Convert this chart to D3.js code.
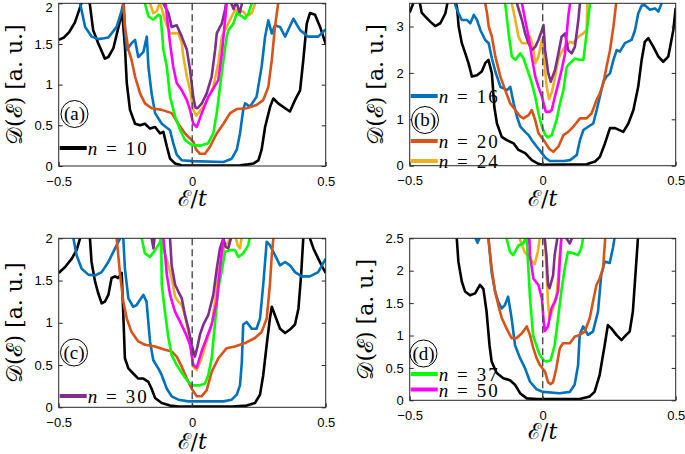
<!DOCTYPE html>
<html><head><meta charset="utf-8">
<script src="https://cdn.jsdelivr.net/npm/d3@7/dist/d3.min.js"></script>
<style>body{margin:0;background:#fff}svg{display:block}</style>
</head><body>
<svg id="chart" width="685" height="454"></svg>
<script>
// ---------------- data (E/t , D(E) in a.u.) ----------------
const seriesN = [10, 16, 20, 24, 30, 37, 50];
const seriesColors = ["#000000", "#0072BD", "#D95319", "#EDB120", "#7E2F8E", "#00FF00", "#FF00FF"];
const xTickValues = [-0.5, 0, 0.5];
const yTicksA = [0, 0.5, 1, 1.5, 2];
const yTicksB = [0, 1, 2, 3];
const yTicksC = [0, 0.5, 1, 1.5, 2];
const yTicksD = [0, 0.5, 1, 1.5, 2, 2.5];

// panel (a)
const a_n10 = [[-0.5,1.55],[-0.48,1.58],[-0.46,1.65],[-0.44,1.76],[-0.425,1.9],[-0.415,2.0],[-0.405,2.15],[-0.392,2.15],[-0.383,1.98],[-0.371,1.67],[-0.352,1.51],[-0.327,1.32],[-0.314,1.34],[-0.295,1.45],[-0.27,1.79],[-0.262,1.88],[-0.252,1.47],[-0.245,1.02],[-0.233,0.69],[-0.214,0.52],[-0.195,0.50],[-0.177,0.52],[-0.158,0.46],[-0.139,0.48],[-0.12,0.40],[-0.108,0.42],[-0.095,0.24],[-0.083,0.09],[-0.064,0.03],[-0.04,0.01],[0,0.005],[0.1,0.005],[0.18,0.01],[0.21,0.02],[0.229,0.03],[0.248,0.07],[0.26,0.2],[0.273,0.48],[0.292,0.73],[0.304,0.83],[0.322,0.77],[0.348,0.71],[0.366,0.67],[0.385,0.81],[0.404,0.93],[0.416,1.30],[0.429,1.75],[0.441,1.88],[0.46,1.86],[0.479,1.71],[0.5,1.5]];
const a_n16 = [[-0.43,2.3],[-0.42,2.0],[-0.401,1.71],[-0.376,1.59],[-0.352,1.56],[-0.33,1.57],[-0.314,1.58],[-0.283,1.71],[-0.265,1.9],[-0.257,2.02],[-0.25,1.6],[-0.245,1.43],[-0.227,1.51],[-0.214,1.55],[-0.202,1.34],[-0.183,1.40],[-0.17,1.59],[-0.164,1.22],[-0.152,0.89],[-0.139,0.65],[-0.114,0.52],[-0.095,0.47],[-0.083,0.44],[-0.071,0.28],[-0.058,0.14],[-0.039,0.07],[0,0.06],[0.117,0.05],[0.148,0.09],[0.167,0.2],[0.179,0.40],[0.191,0.69],[0.198,0.77],[0.216,0.73],[0.241,0.85],[0.26,1.22],[0.273,1.59],[0.285,1.79],[0.298,1.63],[0.31,1.73],[0.329,1.71],[0.348,1.59],[0.379,1.81],[0.404,1.67],[0.435,1.59],[0.472,1.59],[0.5,1.68]];
const a_n20 = [[-0.265,2.3],[-0.258,2.0],[-0.252,1.71],[-0.239,1.43],[-0.227,1.30],[-0.214,1.10],[-0.195,0.89],[-0.177,0.77],[-0.152,0.71],[-0.114,0.69],[-0.077,0.65],[-0.052,0.52],[-0.027,0.40],[0.004,0.30],[0.015,0.2],[0.029,0.15],[0.048,0.15],[0.067,0.24],[0.092,0.40],[0.117,0.52],[0.142,0.65],[0.167,0.70],[0.204,0.71],[0.241,0.75],[0.266,0.81],[0.285,0.97],[0.298,1.30],[0.31,1.71],[0.322,2.0],[0.33,2.3]];
const a_n24 = [[-0.165,2.2],[-0.158,2.0],[-0.146,1.88],[-0.133,1.90],[-0.122,2.0],[-0.115,1.95],[-0.102,1.79],[-0.083,1.63],[-0.052,1.63],[-0.039,1.51],[-0.033,1.34],[-0.02,1.10],[-0.008,0.93],[0.004,0.69],[0.015,0.62],[0.023,0.65],[0.042,0.73],[0.06,0.83],[0.079,0.97],[0.098,1.27],[0.111,1.59],[0.129,1.71],[0.148,1.84],[0.161,1.92],[0.175,1.90],[0.192,1.90],[0.204,1.84],[0.223,1.88],[0.236,2.0],[0.245,2.3]];
const a_n30 = [[-0.115,2.2],[-0.108,2.0],[-0.089,1.88],[-0.077,1.71],[-0.058,1.73],[-0.039,1.59],[-0.02,1.43],[-0.008,1.18],[0.004,0.85],[0.012,0.72],[0.02,0.71],[0.036,0.77],[0.054,0.89],[0.073,1.10],[0.086,1.43],[0.092,1.63],[0.104,1.71],[0.111,1.75],[0.123,1.92],[0.129,2.05],[0.14,2.05],[0.155,1.93],[0.165,2.02],[0.178,1.88],[0.19,2.05],[0.195,2.2]];
const a_n37 = [[-0.185,2.2],[-0.177,2.0],[-0.164,1.84],[-0.146,1.80],[-0.127,1.86],[-0.118,1.84],[-0.108,1.43],[-0.095,1.22],[-0.083,0.85],[-0.064,0.61],[-0.045,0.44],[-0.027,0.32],[-0.002,0.26],[0.029,0.25],[0.06,0.28],[0.079,0.40],[0.092,0.65],[0.104,0.97],[0.117,1.30],[0.129,1.59],[0.136,1.67],[0.154,1.75],[0.167,1.88],[0.186,1.84],[0.198,1.81],[0.211,1.88],[0.223,2.0],[0.23,2.2]];
const a_n50 = [[-0.105,2.2],[-0.095,1.85],[-0.083,1.51],[-0.071,1.22],[-0.058,1.02],[-0.039,0.93],[-0.02,0.81],[-0.008,0.69],[0.004,0.52],[0.017,0.48],[0.036,0.65],[0.06,0.85],[0.079,0.95],[0.098,1.06],[0.111,1.38],[0.123,1.79],[0.129,2.0],[0.133,2.2]];

// panel (b)
const b_n10 = [[-0.5,3.3],[-0.49,3.45],[-0.48,3.6],[-0.465,3.6],[-0.455,3.3],[-0.441,3.21],[-0.422,3.10],[-0.404,3.01],[-0.385,3.07],[-0.366,3.28],[-0.355,3.6],[-0.33,3.6],[-0.322,3.4],[-0.316,3.0],[-0.304,2.64],[-0.291,2.42],[-0.279,2.21],[-0.266,1.92],[-0.247,1.95],[-0.229,2.03],[-0.216,2.21],[-0.204,2.28],[-0.191,1.99],[-0.182,1.27],[-0.172,0.91],[-0.154,0.62],[-0.135,0.55],[-0.109,0.48],[-0.091,0.34],[-0.066,0.27],[-0.041,0.12],[-0.016,0.04],[0,0.02],[0.165,0.03],[0.197,0.09],[0.215,0.19],[0.234,0.48],[0.253,0.81],[0.272,0.81],[0.303,0.73],[0.322,0.91],[0.341,1.20],[0.359,1.70],[0.372,2.28],[0.384,2.67],[0.397,2.75],[0.416,2.56],[0.435,2.35],[0.453,2.24],[0.472,2.35],[0.491,2.92],[0.5,3.4]];
const b_n16 = [[-0.335,3.7],[-0.328,3.45],[-0.316,3.28],[-0.304,3.14],[-0.285,3.14],[-0.272,3.07],[-0.259,3.25],[-0.247,3.14],[-0.234,2.92],[-0.216,2.71],[-0.203,2.64],[-0.191,2.31],[-0.178,2.03],[-0.159,1.70],[-0.134,1.63],[-0.122,1.70],[-0.109,1.34],[-0.097,1.06],[-0.084,0.84],[-0.066,0.73],[-0.053,0.66],[-0.041,0.55],[-0.022,0.41],[-0.003,0.27],[0.01,0.17],[0.027,0.10],[0.08,0.10],[0.103,0.12],[0.128,0.23],[0.14,0.55],[0.153,0.77],[0.171,0.84],[0.19,0.91],[0.203,1.20],[0.215,1.49],[0.228,1.81],[0.24,1.92],[0.253,1.99],[0.266,2.28],[0.278,2.49],[0.29,2.46],[0.309,2.64],[0.334,2.71],[0.347,2.92],[0.359,3.28],[0.372,3.45],[0.384,3.46],[0.403,3.36],[0.422,3.39],[0.435,3.32],[0.447,3.5],[0.455,3.7]];
const b_n20 = [[-0.222,3.7],[-0.216,3.5],[-0.209,3.28],[-0.203,3.0],[-0.191,2.78],[-0.178,2.35],[-0.159,1.92],[-0.141,1.63],[-0.122,1.34],[-0.103,1.20],[-0.084,1.06],[-0.072,1.02],[-0.053,1.09],[-0.041,1.20],[-0.028,0.98],[-0.016,0.70],[0.004,0.55],[0.015,0.45],[0.025,0.36],[0.04,0.30],[0.059,0.41],[0.078,0.66],[0.096,0.73],[0.115,0.84],[0.14,1.02],[0.165,1.02],[0.184,1.13],[0.203,1.42],[0.215,1.56],[0.228,1.78],[0.24,2.13],[0.253,2.49],[0.266,3.0],[0.276,3.5],[0.28,3.7]];
const b_n24 = [[-0.122,3.7],[-0.116,3.5],[-0.103,3.14],[-0.091,2.78],[-0.078,2.64],[-0.059,2.64],[-0.047,2.78],[-0.034,2.49],[-0.028,2.21],[-0.016,2.35],[-0.003,2.71],[0.005,2.3],[0.015,1.7],[0.024,1.43],[0.035,1.6],[0.046,1.9],[0.059,2.3],[0.071,2.45],[0.084,2.56],[0.103,2.67],[0.115,2.64],[0.134,2.78],[0.153,2.85],[0.165,2.92],[0.168,3.5],[0.17,3.7]];
const b_n30 = [[-0.103,3.7],[-0.097,3.5],[-0.078,3.14],[-0.066,2.85],[-0.053,2.64],[-0.041,2.49],[-0.028,2.56],[-0.016,2.71],[-0.003,2.92],[0.003,3.03],[0.009,2.49],[0.021,1.99],[0.03,1.81],[0.046,2.06],[0.059,2.42],[0.071,2.78],[0.084,2.85],[0.096,2.49],[0.109,2.42],[0.121,2.56],[0.134,3.14],[0.14,3.5],[0.143,3.7]];
const b_n37 = [[-0.147,3.7],[-0.141,3.5],[-0.128,2.85],[-0.116,2.35],[-0.103,2.28],[-0.084,2.42],[-0.072,2.31],[-0.053,1.99],[-0.041,1.78],[-0.028,1.49],[-0.016,1.13],[-0.003,0.84],[0.01,0.66],[0.02,0.61],[0.034,0.66],[0.052,0.98],[0.065,1.34],[0.078,1.63],[0.09,2.13],[0.103,2.21],[0.121,2.31],[0.14,2.28],[0.153,2.28],[0.165,2.85],[0.178,3.5],[0.182,3.7]];
const b_n50 = [[-0.085,3.7],[-0.078,3.5],[-0.066,3.14],[-0.053,2.78],[-0.041,2.35],[-0.028,1.92],[-0.016,1.70],[-0.003,1.49],[0.005,1.3],[0.012,1.16],[0.025,1.16],[0.034,1.2],[0.046,1.49],[0.059,1.78],[0.071,2.06],[0.084,2.42],[0.096,3.21],[0.103,3.5],[0.106,3.7]];

// panel (c)
const c_n10 = [[-0.5,1.59],[-0.476,1.66],[-0.451,1.76],[-0.433,1.86],[-0.42,2.0],[-0.41,2.2],[-0.39,2.2],[-0.383,2.0],[-0.377,1.72],[-0.364,1.49],[-0.352,1.35],[-0.339,1.23],[-0.327,1.25],[-0.314,1.33],[-0.302,1.53],[-0.289,1.55],[-0.277,1.53],[-0.264,1.59],[-0.258,1.09],[-0.252,0.58],[-0.239,0.46],[-0.221,0.40],[-0.202,0.34],[-0.183,0.34],[-0.164,0.30],[-0.152,0.22],[-0.139,0.11],[-0.114,0.05],[-0.083,0.02],[-0.05,0.01],[0.15,0.01],[0.204,0.02],[0.235,0.05],[0.254,0.15],[0.266,0.38],[0.279,0.74],[0.291,1.05],[0.298,1.19],[0.31,1.09],[0.329,0.93],[0.348,0.88],[0.366,0.92],[0.385,0.98],[0.398,1.17],[0.408,1.57],[0.416,2.0],[0.425,2.2],[0.435,2.2],[0.441,2.0],[0.454,1.88],[0.472,1.76],[0.491,1.64],[0.5,1.59]];
const c_n16 = [[-0.45,2.2],[-0.445,2.0],[-0.433,1.80],[-0.414,1.64],[-0.389,1.57],[-0.364,1.56],[-0.339,1.60],[-0.314,1.72],[-0.289,1.88],[-0.27,2.0],[-0.263,2.2],[-0.258,2.0],[-0.252,1.64],[-0.239,1.29],[-0.221,1.19],[-0.208,1.21],[-0.196,1.27],[-0.183,1.33],[-0.171,1.25],[-0.158,0.78],[-0.146,0.56],[-0.127,0.46],[-0.114,0.38],[-0.095,0.22],[-0.077,0.13],[-0.052,0.09],[-0.014,0.07],[0.117,0.07],[0.148,0.09],[0.167,0.15],[0.179,0.26],[0.186,0.54],[0.191,0.98],[0.204,1.01],[0.223,0.93],[0.241,0.93],[0.254,1.05],[0.266,1.45],[0.279,1.96],[0.291,1.92],[0.31,1.80],[0.329,1.68],[0.348,1.72],[0.366,1.68],[0.385,1.60],[0.41,1.55],[0.441,1.55],[0.472,1.60],[0.5,1.76]];
const c_n20 = [[-0.29,2.2],[-0.283,2.0],[-0.27,1.57],[-0.258,1.25],[-0.245,1.05],[-0.227,0.89],[-0.202,0.78],[-0.177,0.74],[-0.139,0.72],[-0.102,0.68],[-0.077,0.66],[-0.058,0.60],[-0.039,0.48],[-0.02,0.34],[-0.002,0.22],[0.017,0.13],[0.035,0.13],[0.054,0.20],[0.073,0.42],[0.098,0.58],[0.129,0.70],[0.16,0.72],[0.198,0.76],[0.235,0.82],[0.26,0.89],[0.279,1.05],[0.291,1.45],[0.298,1.80],[0.304,2.0],[0.308,2.2]];
const c_n24 = [[-0.128,2.2],[-0.121,2.0],[-0.102,1.82],[-0.089,1.68],[-0.077,1.53],[-0.064,1.31],[-0.052,1.25],[-0.039,1.21],[-0.027,1.09],[-0.014,0.89],[-0.002,0.66],[0.004,0.48],[0.017,0.44],[0.035,0.58],[0.054,0.78],[0.073,0.98],[0.085,1.25],[0.098,1.57],[0.11,1.80],[0.123,1.92],[0.135,1.95],[0.145,2.05],[0.16,2.05],[0.17,1.92],[0.179,1.88],[0.185,2.0],[0.19,2.2]];
const c_n30 = [[-0.16,2.2],[-0.152,2.0],[-0.145,1.88],[-0.138,2.1],[-0.09,2.1],[-0.083,2.0],[-0.077,1.68],[-0.064,1.45],[-0.052,1.37],[-0.039,1.29],[-0.027,1.09],[-0.014,0.93],[-0.002,0.74],[0.01,0.60],[0.02,0.72],[0.029,0.86],[0.042,0.98],[0.06,1.09],[0.079,1.33],[0.092,1.64],[0.104,1.88],[0.117,2.0],[0.125,1.9],[0.135,1.88],[0.145,2.0],[0.155,2.2]];
const c_n37 = [[-0.195,2.2],[-0.189,2.0],[-0.177,1.82],[-0.158,1.78],[-0.139,1.86],[-0.121,1.95],[-0.116,2.0],[-0.114,1.45],[-0.102,1.13],[-0.089,0.82],[-0.077,0.62],[-0.058,0.50],[-0.033,0.38],[-0.014,0.30],[0.004,0.26],[0.029,0.26],[0.048,0.28],[0.06,0.38],[0.073,0.58],[0.085,0.98],[0.098,1.41],[0.11,1.60],[0.123,1.84],[0.142,1.86],[0.16,1.86],[0.173,1.78],[0.191,1.82],[0.21,1.92],[0.215,2.0],[0.22,2.2]];
const c_n50 = [[-0.115,2.2],[-0.108,2.0],[-0.1,1.75],[-0.095,1.57],[-0.083,1.33],[-0.064,1.13],[-0.045,1.01],[-0.027,0.89],[-0.008,0.74],[0.004,0.50],[0.017,0.47],[0.035,0.66],[0.054,0.82],[0.073,0.98],[0.092,1.25],[0.104,1.64],[0.117,2.0],[0.122,2.2]];

// panel (d)
const d_n10 = [[-0.33,2.8],[-0.323,2.5],[-0.317,2.14],[-0.304,1.83],[-0.292,1.68],[-0.273,1.62],[-0.254,1.65],[-0.236,1.78],[-0.223,1.72],[-0.211,1.37],[-0.2,0.85],[-0.192,0.60],[-0.173,0.42],[-0.148,0.34],[-0.123,0.31],[-0.104,0.24],[-0.085,0.11],[-0.06,0.03],[-0.022,0.02],[0.139,0.02],[0.177,0.06],[0.195,0.13],[0.214,0.39],[0.233,0.85],[0.245,1.16],[0.258,1.11],[0.277,1.01],[0.296,0.93],[0.314,1.01],[0.327,1.06],[0.339,1.37],[0.352,2.14],[0.358,2.5],[0.362,2.8]];
const d_n16 = [[-0.258,2.8],[-0.252,2.5],[-0.245,2.43],[-0.238,2.5],[-0.232,2.8],[-0.21,2.8],[-0.204,2.5],[-0.192,1.98],[-0.179,1.68],[-0.167,1.52],[-0.154,1.42],[-0.142,1.47],[-0.13,1.60],[-0.117,1.27],[-0.104,0.85],[-0.085,0.65],[-0.066,0.49],[-0.048,0.29],[-0.023,0.17],[0.0,0.13],[0.064,0.11],[0.102,0.13],[0.12,0.24],[0.133,0.54],[0.139,1.01],[0.152,1.14],[0.17,1.01],[0.189,1.06],[0.208,1.37],[0.22,1.93],[0.233,2.14],[0.252,2.12],[0.264,2.35],[0.27,2.5],[0.275,2.8]];
const d_n20 = [[-0.21,2.8],[-0.204,2.5],[-0.192,2.04],[-0.179,1.68],[-0.167,1.47],[-0.154,1.27],[-0.136,1.11],[-0.117,0.96],[-0.098,0.96],[-0.079,1.03],[-0.06,1.14],[-0.048,1.01],[-0.035,0.80],[-0.023,0.65],[-0.01,0.54],[0.009,0.44],[0.02,0.28],[0.03,0.25],[0.039,0.28],[0.051,0.49],[0.064,0.80],[0.076,0.88],[0.102,0.88],[0.12,0.98],[0.139,1.01],[0.158,1.06],[0.177,1.27],[0.189,1.52],[0.202,1.78],[0.214,1.88],[0.227,2.04],[0.235,2.5],[0.24,2.8]];
const d_n24 = [[-0.095,2.8],[-0.087,2.5],[-0.068,2.29],[-0.05,2.2],[-0.03,2.1],[-0.018,2.3],[-0.011,2.5],[-0.005,2.8],[0.005,2.8],[0.012,2.2],[0.02,1.5],[0.026,1.27],[0.039,1.42],[0.051,1.57],[0.058,1.88],[0.064,2.24],[0.07,2.5],[0.075,2.8]];
const d_n30 = [[-0.068,2.8],[-0.062,2.5],[-0.058,2.42],[-0.053,2.5],[-0.048,2.8],[0.003,2.8],[0.007,2.5],[0.014,2.24],[0.02,1.78],[0.026,1.73],[0.039,1.93],[0.045,2.24],[0.055,2.5],[0.06,2.8],[0.085,2.8],[0.089,2.5],[0.102,2.42],[0.11,2.5],[0.115,2.8]];
const d_n37 = [[-0.142,2.8],[-0.136,2.5],[-0.123,2.29],[-0.111,2.24],[-0.091,2.39],[-0.073,2.42],[-0.066,2.5],[-0.06,2.5],[-0.054,2.04],[-0.048,1.6],[-0.036,1.0],[-0.02,0.8],[-0.011,0.7],[0.005,0.61],[0.014,0.60],[0.03,0.62],[0.045,0.85],[0.058,1.27],[0.07,1.68],[0.083,2.04],[0.095,2.29],[0.114,2.27],[0.133,2.24],[0.145,2.35],[0.152,2.5],[0.157,2.8]];
const d_n50 = [[-0.055,2.8],[-0.05,2.5],[-0.048,2.24],[-0.035,1.88],[-0.016,1.78],[-0.003,1.57],[0.004,1.2],[0.008,1.07],[0.02,1.14],[0.033,1.42],[0.045,1.52],[0.058,1.68],[0.064,2.14],[0.07,2.5],[0.075,2.8]];

// ---------------- layout ----------------
const panels = [
  {tag:"a", x0:58.7, x1:325.7, y0:3.3, y1:166, ymax:2, yTicks:yTicksA,
   series:[a_n10,a_n16,a_n20,a_n24,a_n30,a_n37,a_n50], legend:[[0,148]], circ:[74.5,114],
   ylabX:22, xlabY:206},
  {tag:"b", x0:409.7, x1:675.7, y0:3.3, y1:165.7, ymax:3.5, yTicks:yTicksB,
   series:[b_n10,b_n16,b_n20,b_n24,b_n30,b_n37,b_n50], legend:[[1,96],[2,141],[3,161]], circ:[425,120],
   ylabX:383, xlabY:206},
  {tag:"c", x0:58.7, x1:325.7, y0:238.3, y1:407.3, ymax:2, yTicks:yTicksC,
   series:[c_n10,c_n16,c_n20,c_n24,c_n30,c_n37,c_n50], legend:[[4,396]], circ:[74,352.5],
   ylabX:22, xlabY:449},
  {tag:"d", x0:409.7, x1:675.7, y0:238.3, y1:400.3, ymax:2.5, yTicks:yTicksD,
   series:[d_n10,d_n16,d_n20,d_n24,d_n30,d_n37,d_n50], legend:[[5,374],[6,389.5]], circ:[423.5,353.5],
   ylabX:373, xlabY:439}
];

const svg = d3.select("#chart");
const axisColor = "#262626";
const mathFont = "'DejaVu Serif', 'Liberation Serif', serif";

panels.forEach((p, pi) => {
  const x = d3.scaleLinear().domain([-0.5, 0.5]).range([p.x0, p.x1]);
  const y = d3.scaleLinear().domain([0, p.ymax]).range([p.y1, p.y0]);
  const g = svg.append("g");

  const clipId = "clip" + pi;
  svg.append("clipPath").attr("id", clipId).append("rect")
    .attr("x", p.x0).attr("y", p.y0).attr("width", p.x1 - p.x0).attr("height", p.y1 - p.y0);

  const line = d3.line().x(d => x(d[0])).y(d => y(d[1]));
  const plot = g.append("g").attr("clip-path", `url(#${clipId})`);
  p.series.forEach((s, i) => {
    plot.append("path").datum(s).attr("d", line)
      .attr("fill", "none").attr("stroke", seriesColors[i])
      .attr("stroke-width", 2.6).attr("stroke-linejoin", "round");
  });
  // dashed zero line
  plot.append("line").attr("x1", x(0)).attr("x2", x(0)).attr("y1", p.y0).attr("y2", p.y1)
    .attr("stroke", "#4a4a4a").attr("stroke-width", 1.4).attr("stroke-dasharray", "7,4");

  // axes
  const yAx = d3.axisLeft(y).tickValues(p.yTicks).tickSize(-4).tickPadding(6).tickSizeOuter(0)
    .tickFormat(d3.format("~g"));
  const gy = g.append("g").attr("transform", `translate(${p.x0},0)`).call(yAx);
  const yAxR = d3.axisRight(y).tickValues(p.yTicks).tickSize(-4).tickSizeOuter(0).tickFormat("");
  const gyr = g.append("g").attr("transform", `translate(${p.x1},0)`).call(yAxR);
  const xAx = d3.axisBottom(x).tickValues(xTickValues).tickSize(-4).tickPadding(12).tickSizeOuter(0)
    .tickFormat(d3.format("~g"));
  const gx = g.append("g").attr("transform", `translate(0,${p.y1})`).call(xAx);
  [gy, gyr, gx].forEach(a => {
    a.select(".domain").remove();
    a.selectAll("line").attr("stroke", axisColor);
    a.selectAll("text").attr("fill", "#000").style("font-family", "'Liberation Sans', Arial, sans-serif").style("font-size", "13px");
  });
  gx.selectAll("text").attr("dy", "0.6em");
  // keep top tick label inside the window
  gy.selectAll("text").filter(d => d === p.ymax && p.y0 < 6).attr("dy", "0.62em");

  g.append("rect").attr("x", p.x0).attr("y", p.y0).attr("width", p.x1 - p.x0).attr("height", p.y1 - p.y0)
    .attr("fill", "none").attr("stroke", axisColor).attr("stroke-width", 1);

  // axis labels
  const xl = g.append("text").attr("x", x(0)).attr("y", p.xlabY).attr("text-anchor", "middle")
    .style("font-family", mathFont).style("font-size", "22px");
  xl.append("tspan").text("ℰ");
  xl.append("tspan").text("/");
  xl.append("tspan").style("font-style", "italic").text("t");

  const cy = (p.y0 + p.y1) / 2;
  const yl = g.append("text").attr("transform", `translate(${p.ylabX},${cy}) rotate(-90)`)
    .attr("text-anchor", "middle").style("font-family", mathFont).style("font-size", "22px");
  yl.append("tspan").text("𝒟(ℰ) [a. u.]");

  // panel circle label
  g.append("circle").attr("cx", p.circ[0]).attr("cy", p.circ[1]).attr("r", 13.5)
    .attr("fill", "#fff").attr("stroke", "#000").attr("stroke-width", 1);
  g.append("text").attr("x", p.circ[0]).attr("y", p.circ[1] + 6).attr("text-anchor", "middle")
    .style("font-family", "'Liberation Serif', serif").style("font-size", "19px").text(`(${p.tag})`);

  // legend entries
  p.legend.forEach(([si, ly]) => {
    g.append("line").attr("x1", p.x0 + 1).attr("x2", p.x0 + 28).attr("y1", ly).attr("y2", ly)
      .attr("stroke", seriesColors[si]).attr("stroke-width", 4);
    const t = g.append("text").attr("x", p.x0 + 29).attr("y", ly + 7)
      .attr("textLength", 59).attr("lengthAdjust", "spacing")
      .style("font-family", "'Liberation Serif', serif").style("font-size", "19px");
    t.append("tspan").style("font-style", "italic").text("n");
    t.append("tspan").text(" = " + seriesN[si]);
  });
});
</script>
</body></html>
